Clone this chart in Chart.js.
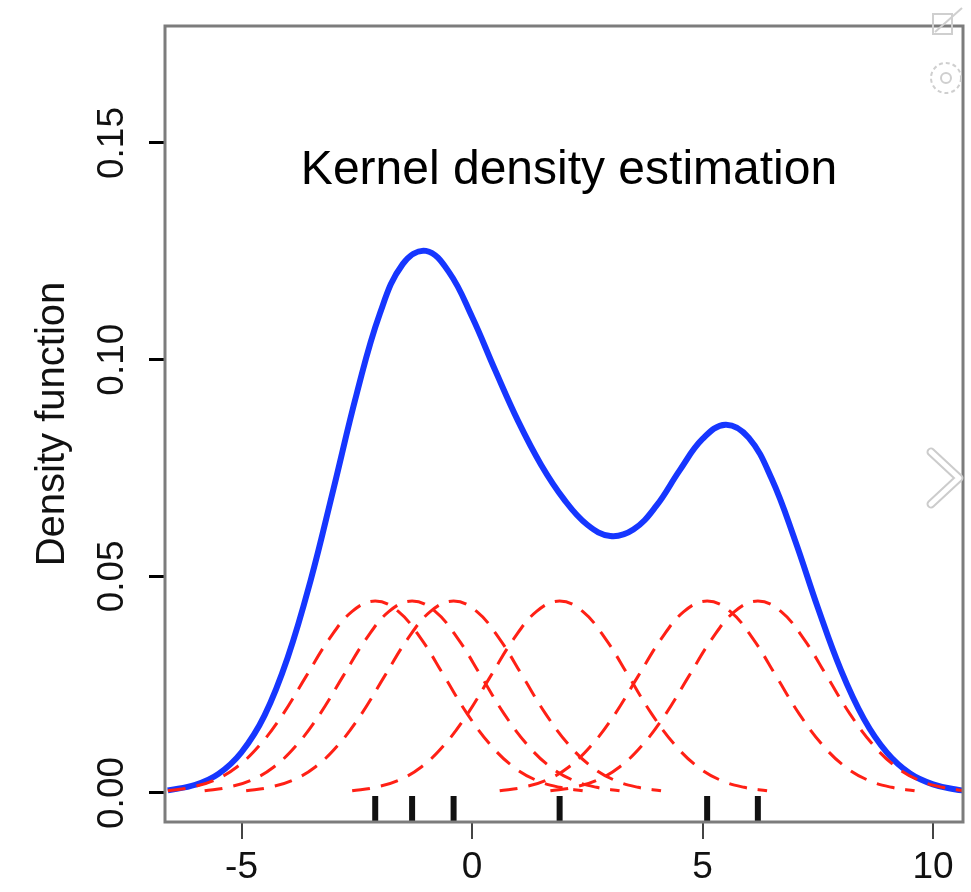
<!DOCTYPE html>
<html>
<head>
<meta charset="utf-8">
<title>Kernel density estimation</title>
<script src="https://cdn.jsdelivr.net/npm/chart.js@4"></script>
<style>
    html, body { margin: 0; padding: 0; background: #fff; }
    #wrap { width: 971px; height: 892px; }
</style>
</head>
<body>
<div id="wrap"><canvas id="kdeChart" width="971" height="892"></canvas></div>
<script>
// Sample points (rug marks)
const samples = [-2.1, -1.3, -0.4, 1.9, 5.1, 6.2];

// Tick values
const xTicks = [-5, 0, 5, 10];
const yTicks = [0, 0.05, 0.10, 0.15];

// Summed density curve (blue)
const kdeX = [-6.6, -6, -5.5, -5, -4.5, -4, -3.5, -3, -2.5, -2, -1.5, -1, -0.5, 0, 0.5, 1, 1.5, 2,
    2.5, 3, 3.5, 4, 4.5, 5, 5.5, 6, 6.5, 7, 7.5, 8, 8.5, 9, 9.5, 10, 10.5, 10.7];
const kdeY = [0.0006, 0.0019, 0.0044, 0.0094, 0.0179, 0.0312, 0.0491, 0.0704, 0.0922, 0.1106,
    0.1221, 0.1251, 0.1202, 0.1099, 0.0976, 0.0858, 0.0757, 0.0677, 0.0619, 0.0593,
    0.0608, 0.0663, 0.0744, 0.0817, 0.0850, 0.0820, 0.0725, 0.0585, 0.0428, 0.0284,
    0.0171, 0.0093, 0.0045, 0.0020, 0.0008, 0.0005];

// Individual kernels (red dashed) - all six bumps have the same height profile
const bumpY = [0.0005, 0.0013, 0.0029, 0.0060, 0.0111, 0.0182, 0.0269, 0.0355, 0.0419, 0.0443,
    0.0419, 0.0355, 0.0269, 0.0182, 0.0111, 0.0060, 0.0029, 0.0013, 0.0005];
const kernel1X = [-6.6, -6.1, -5.6, -5.1, -4.6, -4.1, -3.6, -3.1, -2.6, -2.1, -1.6, -1.1, -0.6, -0.1, 0.4, 0.9, 1.4, 1.9, 2.4];
const kernel2X = [-5.8, -5.3, -4.8, -4.3, -3.8, -3.3, -2.8, -2.3, -1.8, -1.3, -0.8, -0.3, 0.2, 0.7, 1.2, 1.7, 2.2, 2.7, 3.2];
const kernel3X = [-4.9, -4.4, -3.9, -3.4, -2.9, -2.4, -1.9, -1.4, -0.9, -0.4, 0.1, 0.6, 1.1, 1.6, 2.1, 2.6, 3.1, 3.6, 4.1];
const kernel4X = [-2.6, -2.1, -1.6, -1.1, -0.6, -0.1, 0.4, 0.9, 1.4, 1.9, 2.4, 2.9, 3.4, 3.9, 4.4, 4.9, 5.4, 5.9, 6.4];
const kernel5X = [0.6, 1.1, 1.6, 2.1, 2.6, 3.1, 3.6, 4.1, 4.6, 5.1, 5.6, 6.1, 6.6, 7.1, 7.6, 8.1, 8.6, 9.1, 9.6];
const kernel6X = [1.7, 2.2, 2.7, 3.2, 3.7, 4.2, 4.7, 5.2, 5.7, 6.2, 6.7, 7.2, 7.7, 8.2, 8.7, 9.2, 9.7, 10.2, 10.7];

const FONT = '"Liberation Sans", Arial, Helvetica, sans-serif';

const toPoints = (xs, ys) => xs.map((x, i) => ({ x: x, y: ys[i] }));

const kernelDataset = xs => ({
    data: toPoints(xs, bumpY),
    borderColor: '#ff2015',
    borderWidth: 3,
    borderDash: [18, 11],
    pointRadius: 0,
    fill: false,
    tension: 0.4,
    order: 1
});

// Box, rotated y labels, rug, caption and the little viewer icons
const decorations = {
    id: 'decorations',
    afterDatasetsDraw(chart) {
        const { ctx, chartArea: a, scales: { x } } = chart;
        ctx.save();
        ctx.strokeStyle = '#111';
        ctx.lineWidth = 6;
        samples.forEach(v => {
            const px = x.getPixelForValue(v);
            ctx.beginPath();
            ctx.moveTo(px, a.bottom - 26);
            ctx.lineTo(px, a.bottom);
            ctx.stroke();
        });
        ctx.restore();
    },
    afterDraw(chart) {
        const { ctx, chartArea: a, scales: { y } } = chart;
        ctx.save();

        // plot frame
        ctx.strokeStyle = '#7c7c7c';
        ctx.lineWidth = 3;
        ctx.strokeRect(a.left, a.top, a.right - a.left, a.bottom - a.top);

        // y tick labels, rotated like R
        ctx.fillStyle = '#111';
        ctx.font = '37px ' + FONT;
        ctx.textAlign = 'center';
        ctx.textBaseline = 'middle';
        yTicks.forEach(v => {
            ctx.save();
            ctx.translate(113, y.getPixelForValue(v));
            ctx.rotate(-Math.PI / 2);
            ctx.fillText(v.toFixed(2), 0, 0);
            ctx.restore();
        });

        // y axis title
        ctx.save();
        ctx.font = '40px ' + FONT;
        ctx.translate(53, (a.top + a.bottom) / 2);
        ctx.rotate(-Math.PI / 2);
        ctx.fillText('Density function', 0, 0);
        ctx.restore();

        // caption inside the plot
        ctx.font = '48px ' + FONT;
        ctx.textBaseline = 'alphabetic';
        ctx.fillStyle = '#000';
        ctx.fillText('Kernel density estimation', 569, 184);

        // faint viewer icons on the right edge
        ctx.strokeStyle = '#cfcfcf';
        ctx.lineWidth = 2;
        ctx.strokeRect(933, 14, 19, 20);
        ctx.beginPath();
        ctx.moveTo(935, 32);
        ctx.lineTo(962, 8);
        ctx.stroke();

        ctx.setLineDash([4, 3]);
        ctx.beginPath();
        ctx.arc(946, 78, 15, 0, Math.PI * 2);
        ctx.stroke();
        ctx.setLineDash([]);
        ctx.beginPath();
        ctx.arc(946, 78, 5, 0, Math.PI * 2);
        ctx.stroke();

        ctx.lineCap = 'round';
        ctx.lineJoin = 'round';
        ctx.lineWidth = 9;
        ctx.strokeStyle = '#cccccc';
        ctx.beginPath();
        ctx.moveTo(931, 452);
        ctx.lineTo(959, 478);
        ctx.lineTo(931, 504);
        ctx.stroke();
        ctx.lineWidth = 5;
        ctx.strokeStyle = '#ffffff';
        ctx.stroke();

        ctx.restore();
    }
};

const createKdeChart = () => {
    const ctx = document.getElementById('kdeChart').getContext('2d');
    return new Chart(ctx, {
        type: 'line',
        data: {
            datasets: [
                kernelDataset(kernel1X),
                kernelDataset(kernel2X),
                kernelDataset(kernel3X),
                kernelDataset(kernel4X),
                kernelDataset(kernel5X),
                kernelDataset(kernel6X),
                {
                    data: toPoints(kdeX, kdeY),
                    borderColor: '#1636ff',
                    borderWidth: 6,
                    pointRadius: 0,
                    fill: false,
                    tension: 0.4,
                    order: 2
                }
            ]
        },
        options: {
            responsive: false,
            animation: false,
            layout: { padding: { left: 0, top: 26, right: 8, bottom: 0 } },
            plugins: {
                legend: { display: false },
                tooltip: { enabled: false }
            },
            scales: {
                x: {
                    type: 'linear',
                    min: -6.66,
                    max: 10.65,
                    afterBuildTicks: s => { s.ticks = xTicks.map(v => ({ value: v })); },
                    afterFit: s => { s.height = 70; },
                    border: { display: false },
                    grid: { drawOnChartArea: false, tickLength: 17, color: '#444', lineWidth: 2 },
                    ticks: {
                        color: '#111',
                        font: { size: 37, family: FONT },
                        padding: 7,
                        maxRotation: 0,
                        autoSkip: false,
                        callback: v => String(v)
                    }
                },
                y: {
                    type: 'linear',
                    min: -0.0067,
                    max: 0.177,
                    afterBuildTicks: s => { s.ticks = yTicks.map(v => ({ value: v })); },
                    afterFit: s => { s.width = 165; },
                    border: { display: false },
                    grid: { drawOnChartArea: false, tickLength: 16, color: '#000', lineWidth: 3 },
                    ticks: { display: false }
                }
            }
        },
        plugins: [decorations]
    });
};

const kdeChart = createKdeChart();
</script>
</body>
</html>
